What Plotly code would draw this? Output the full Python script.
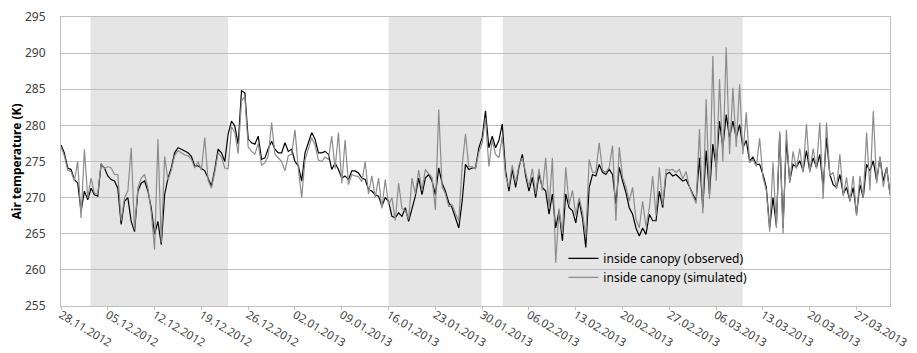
import pandas as pd
import plotly.graph_objects as go

# 12-hourly samples from 28.11.2012 00:00 to 01.04.2013 00:00
start_date = "2012-11-28"
sample_freq = "12h"

observed = [
    277.3, 276.2, 274.1, 273.9, 272.5, 272.0, 268.1, 270.9, 269.7, 271.3,
    270.4, 270.2, 274.6, 274.1, 273.0, 272.5, 272.3, 271.3, 266.3, 269.5,
    270.0, 266.7, 265.3, 270.9, 272.0, 272.3, 270.9, 268.6, 264.9, 266.7,
    263.5, 270.4, 272.7, 274.1, 276.2, 276.9, 276.7, 276.4, 276.2, 275.7,
    274.4, 274.4, 274.1, 273.7, 272.7, 271.6, 273.9, 276.7, 276.2, 275.0,
    278.8, 280.6, 279.9, 277.4, 284.8, 284.5, 278.1, 277.6, 277.4, 278.5,
    275.3, 275.5, 276.8, 277.8,
    276.7, 276.2, 276.2, 277.6, 276.4, 276.7, 275.0, 274.4, 272.3, 276.2,
    277.6, 279.0, 278.1, 276.2, 276.2, 276.4, 276.0, 273.9, 274.8, 273.9,
    272.7, 273.0, 272.5, 273.7, 273.7, 273.4, 272.7, 272.5, 271.1, 270.9,
    270.4, 270.2, 268.8, 270.0, 269.5, 267.4, 267.2, 267.9, 267.4, 268.6,
    266.7, 268.6, 270.2, 272.7, 270.4, 272.7, 273.2, 272.3, 270.4, 274.1,
    272.0, 270.9, 269.3, 268.6, 267.2, 265.8, 269.5, 274.6, 273.9, 274.1,
    274.1, 276.9, 278.3,
    282.0, 276.9, 278.5, 276.9, 277.9, 280.2, 273.7, 270.9, 273.9, 271.4,
    274.2, 276.0, 273.0, 270.9, 272.8, 270.0, 273.2, 271.4, 270.9, 267.7,
    270.5, 265.8, 268.2, 264.0, 270.5, 268.6, 268.2, 266.5, 269.5, 267.2,
    263.1, 271.4, 273.2, 273.0, 274.6, 273.5, 273.2, 273.9, 273.2, 269.1,
    274.2, 272.3, 270.7, 268.6, 267.7, 265.8, 264.7, 265.8, 264.9, 267.7,
    266.8, 266.8, 270.9, 268.6, 273.2, 273.5, 273.0, 273.2, 272.8, 272.3,
    272.5, 271.4,
    270.5, 269.6, 275.5, 268.6, 276.5, 270.5, 277.4, 274.2, 280.6, 276.9,
    281.5, 278.3, 280.6, 278.3, 280.1, 276.9, 277.9, 275.1, 275.6, 274.6,
    274.6, 273.2, 271.4, 265.8, 270.0, 266.1, 278.8, 265.8, 277.9, 272.3,
    274.6, 274.2, 275.1, 273.7, 276.5, 273.7, 275.5, 274.2, 276.0, 271.4,
    278.3, 273.2, 271.8, 271.4, 273.2, 270.5, 271.4, 269.6, 271.4, 267.7,
    271.8, 270.0, 274.6, 273.7, 275.1, 272.3, 275.5, 272.3, 274.2, 270.5,
]

simulated = [
    277.0, 275.8, 273.8, 273.6, 272.3, 275.0, 267.2, 276.7, 270.0, 272.7,
    270.6, 270.5, 274.8, 274.0, 274.3, 274.1, 273.2, 273.2, 266.8, 270.0,
    270.9, 276.9, 265.6, 271.3, 272.7, 273.2, 271.3, 268.0, 262.8, 278.1,
    263.8, 275.7, 272.4, 273.8, 275.8, 276.5, 276.2, 275.9, 275.8, 275.3,
    274.1, 275.0, 273.8, 278.3, 272.4, 271.3, 273.5, 276.2, 275.6, 274.1,
    274.0, 279.8, 279.0, 276.1, 283.4, 284.0, 277.0, 276.4, 276.0, 277.5,
    274.5, 274.8, 275.8, 280.4,
    276.0, 275.5, 275.0, 273.7, 275.8, 276.0, 279.4, 274.0, 270.0, 275.2,
    276.8, 278.3, 277.3, 275.2, 275.0, 275.6, 275.3, 278.5, 274.0, 279.0,
    272.0, 278.0, 271.8, 273.2, 273.0, 272.9, 272.2, 275.0, 270.5, 273.0,
    270.0, 272.7, 268.5, 272.5, 269.0, 270.0, 266.8, 272.0, 268.5, 268.2,
    267.0, 272.7, 270.5, 273.8, 271.0, 273.9, 273.3, 272.8, 268.3, 282.2,
    271.5, 270.5, 268.8, 269.0, 267.8, 266.8, 274.4, 278.8, 274.3, 274.3,
    274.0, 276.3, 277.5,
    281.0, 274.3, 278.0, 276.0, 275.5, 278.5, 273.0, 271.5, 274.5, 272.0,
    274.5, 275.5, 273.5, 271.5, 274.0, 270.5, 274.0, 271.0, 275.5, 268.5,
    275.5, 261.0, 268.5, 265.0, 274.2, 269.0, 271.0, 267.5, 270.0, 268.0,
    264.5, 275.3, 273.5, 273.5, 277.6, 273.8, 273.5, 274.2, 277.2, 266.8,
    277.0, 272.8, 271.5, 269.5, 271.4, 267.0, 265.8, 269.5, 266.0, 268.5,
    273.0, 267.5, 274.2, 269.0, 273.9, 273.8, 273.9, 273.5, 273.9, 272.6,
    273.6, 271.5,
    270.3, 269.2, 279.5, 267.8, 283.6, 269.8, 289.6, 272.3, 286.4, 275.0,
    290.8, 276.0, 285.2, 277.0, 285.7, 276.0, 281.8, 274.8, 275.3, 274.3,
    278.2, 272.8, 271.0, 265.3, 274.9, 265.8, 279.2, 265.0, 279.4, 272.0,
    276.4, 274.0, 276.8, 273.5, 280.2, 273.5, 276.8, 274.0, 280.4, 269.8,
    280.4, 273.0, 273.5, 271.2, 276.0, 270.2, 272.8, 269.4, 273.0, 267.5,
    273.0, 270.0, 279.0, 271.0, 282.0, 272.0, 275.7, 271.5, 274.2, 270.3,
]

# shaded periods (start, end)
shade_starts = ["2012-12-02 10:00", "2013-01-16 00:00", "2013-02-02 02:00"]
shade_ends = ["2012-12-23 00:00", "2013-01-29 22:00", "2013-03-09 23:00"]

series_names = ["inside canopy (observed)", "inside canopy (simulated)"]
series_colors = ["#000000", "#8c8c8c"]

x_range = ["2012-11-28", "2013-04-01"]
y_range = [255, 295]

times = pd.date_range(start_date, periods=len(observed), freq=sample_freq)

fig = go.Figure()
for name, vals, col in zip(series_names, [observed, simulated], series_colors):
    fig.add_trace(go.Scatter(x=times, y=vals, mode="lines", name=name,
                             line=dict(color=col, width=1.2)))

for s, e in zip(shade_starts, shade_ends):
    fig.add_shape(type="rect", xref="x", yref="paper", x0=s, x1=e, y0=0, y1=1,
                  fillcolor="#e5e5e5", line=dict(width=0), layer="below")

font_family = "Noto Sans, Open Sans, sans-serif"
fig.update_layout(
    width=917, height=353,
    margin=dict(l=61, r=27, t=17, b=47),
    paper_bgcolor="white", plot_bgcolor="white",
    font=dict(family=font_family, size=12, color="#404040"),
    showlegend=True,
    legend=dict(x=0.606, y=0.215, xanchor="left", yanchor="top",
                bgcolor="rgba(0,0,0,0)", font=dict(size=12, color="#000000"),
                tracegroupgap=0, itemwidth=30),
)
fig.update_xaxes(
    type="date", range=x_range, tick0="2012-11-28", dtick=7 * 24 * 3600 * 1000,
    tickformat="%d.%m.%Y", tickangle=31, showgrid=False, automargin=False,
    showline=True, linecolor="#bfbfbf", linewidth=1, mirror=True,
    ticks="outside", ticklen=3, tickcolor="#bfbfbf", ticklabelstandoff=-6,
    tickfont=dict(size=11.5, color="#404040"),
)
fig.update_yaxes(
    range=y_range, dtick=5, tick0=255, showgrid=True, gridcolor="#bfbfbf",
    gridwidth=1, showline=True, linecolor="#bfbfbf", linewidth=1, mirror=True,
    ticks="", ticklabelstandoff=12, zeroline=False, automargin=False,
    tickfont=dict(size=12, color="#404040"),
    title=dict(text="<b>Air temperature (K)</b>", font=dict(size=12, color="#000000"),
               standoff=0),
)

fig.write_html("out.html")
